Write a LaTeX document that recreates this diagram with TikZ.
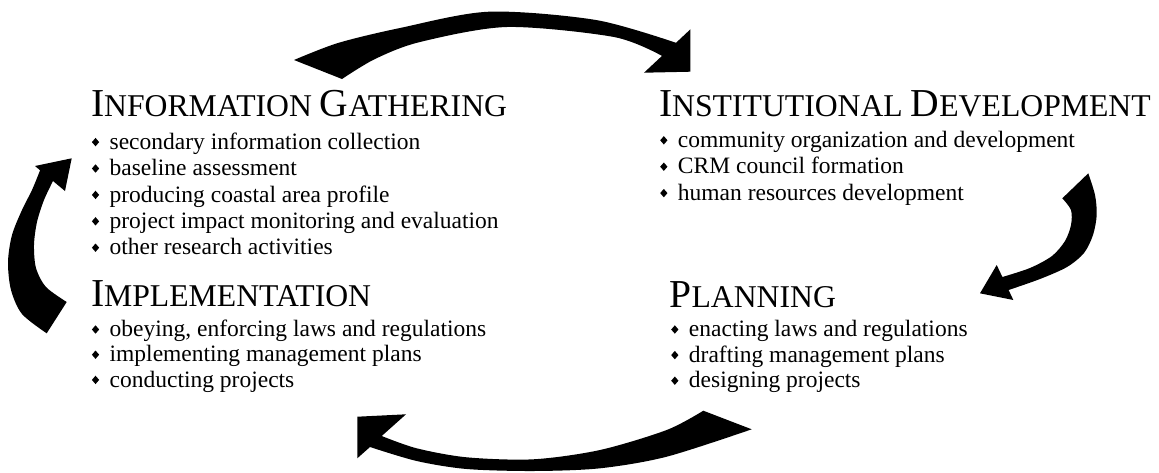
\documentclass[tikz,border=0pt]{standalone}
\usepackage{fontspec}
\setmainfont{Liberation Serif}
\newcommand\scword[2]{{\fontsize{39.6}{40}\selectfont #1}{\fontsize{31.7}{32}\selectfont #2}}
\newcommand\bul{\raisebox{3pt}{\scalebox{0.95}[1.1]{\rotatebox{45}{\rule{5.4pt}{5.4pt}}}}\hspace{10.5pt}}
\begin{document}
\begin{tikzpicture}[x=1pt,y=-1pt,
  hd/.style={anchor=base west, inner sep=0pt, outer sep=0pt, font=\fontsize{31.7}{32}\selectfont},
  item/.style={anchor=base west, inner sep=0pt, font=\fontsize{23.5}{26}\selectfont},
  blockarrow/.style={fill=black, draw=none}]
\useasboundingbox[fill=white] (0,0) rectangle (1159,472);

% Information gathering
\node[hd] (ig) at (91,116) {\scword{I}{NFORMATION} \scword{G}{ATHERING}};
\node[item] (ig1) at (91.7,149.3) {\bul secondary information collection};
\node[item] (ig2) at (91.7,175.7) {\bul baseline assessment};
\node[item] (ig3) at (91.7,202.1) {\bul producing coastal area profile};
\node[item] (ig4) at (91.7,228.5) {\bul project impact monitoring and evaluation};
\node[item] (ig5) at (91.7,254.9) {\bul other research activities};

% Institutional development
\node[hd] (id) at (659,116) {\scword{I}{NSTITUTIONAL} \scword{D}{EVELOPMENT}};
\node[item] (id1) at (660,147.5) {\bul community organization and development};
\node[item] (id2) at (660,173.9) {\bul CRM council formation};
\node[item] (id3) at (660,200.3) {\bul human resources development};

% Implementation
\node[hd] (im) at (91,306) {\scword{I}{MPLEMENTATION}};
\node[item] (im1) at (91.7,336.7) {\bul obeying, enforcing laws and regulations};
\node[item] (im2) at (91.7,361.9) {\bul implementing management plans};
\node[item] (im3) at (91.7,387.1) {\bul conducting projects};

% Planning
\node[hd] (pl) at (669.5,307) {\scword{P}{LANNING}};
\node[item] (pl1) at (671,336.7) {\bul enacting laws and regulations};
\node[item] (pl2) at (671,362.3) {\bul drafting management plans};
\node[item] (pl3) at (671,387.9) {\bul designing projects};

% top arrow: information gathering -> institutional development
\fill[blockarrow] plot[smooth] coordinates {(294,60) (338,43) (400,28) (489,11.7) (596,20) (676,42.8)}
  -- (690.4,29.3) -- (690.4,71.7) -- (644,72.7) -- (662,55.9)
  -- plot[smooth] coordinates {(662,55.9) (614,37) (507,27) (420,42) (375,59) (342,79)} -- cycle;

% right arrow: institutional development -> planning
\fill[blockarrow] plot[smooth] coordinates {(1088.3,173.3) (1095,195) (1096.7,215) (1093,235) (1084,253) (1067,267) (1040,279) (1008.6,290)}
  -- (1013.3,300) -- (980,293.3) -- (996.7,265) -- (1002.4,277)
  -- plot[smooth] coordinates {(1002.4,277) (1030,268) (1052,256) (1065,241) (1071,225) (1071,210) (1062.3,198.3)} -- cycle;

% bottom arrow: planning -> implementation
\fill[blockarrow] plot[smooth] coordinates {(703.3,410.7) (666.7,430) (600,450) (533.3,459.3) (466.7,457.3) (416.7,448.3) (381.7,436)}
  -- (406,414.3) -- (357.3,416.7) -- (357.3,458.3) -- (370,447)
  -- plot[smooth] coordinates {(370,447) (416.7,461) (466.7,469) (533.3,471) (600,468.3) (666.7,456.7) (751.7,429.3)} -- cycle;

% left arrow: implementation -> information gathering
\fill[blockarrow] plot[smooth] coordinates {(46.7,333.3) (22,314) (11,290) (8,262) (12,235) (22,210) (32,190) (40.1,170.3)}
  -- (35,166) -- (71.7,158.3) -- (65,191) -- (53,181)
  -- plot[smooth] coordinates {(53,181) (44,200) (37,222) (34,245) (36,268) (46,287) (66.7,302)} -- cycle;
\end{tikzpicture}
\end{document}
